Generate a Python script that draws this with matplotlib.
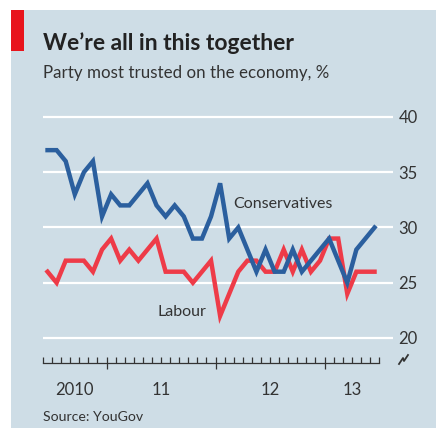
import matplotlib
matplotlib.use('Agg')
import matplotlib.pyplot as plt
from matplotlib.patches import Rectangle
from matplotlib.lines import Line2D
import matplotlib.transforms as mtransforms

plt.rcParams['font.family'] = ['Lato', 'DejaVu Sans']

# monthly polls, June 2010 to June 2013 (x = months since Jan 2010, mid-month)
months = [m + 0.5 for m in range(5, 42)]
conservatives = [37, 37, 36, 33, 35, 36, 31, 33, 32, 32, 33, 34, 32, 31, 32, 31,
                 29, 29, 31, 34, 29, 30, 28, 26, 28, 26, 26, 28, 26, 27, 28, 29,
                 27, 25, 28, 29, 30]
labour = [26, 25, 27, 27, 27, 26, 28, 29, 27, 28, 27, 28, 29, 26, 26, 26,
          25, 26, 27, 22, 24, 26, 27, 27, 26, 26, 28, 26, 28, 26, 27, 29,
          29, 24, 26, 26, 26]
year_labels = ['2010', '11', '12', '13']
year_centres = [8.5, 18, 30, 39]
y_ticks = [20, 25, 30, 35, 40]

W, H = 436, 429
bg = '#cedde6'
blue = '#2b5f9e'
red = '#ee3b48'
txt = '#333333'

fig = plt.figure(figsize=(W / 100, H / 100), dpi=100)
fig.patch.set_facecolor('white')


def fx(px):
    return px / W


def fy(py):
    return 1 - py / H


# panel background and red tag
fig.patches.append(Rectangle((fx(11), fy(428)), fx(436) - fx(11), fy(10) - fy(428),
                             transform=fig.transFigure, facecolor=bg, edgecolor='none', zorder=-2))
fig.patches.append(Rectangle((fx(11), fy(51)), fx(24) - fx(11), fy(10) - fy(51),
                             transform=fig.transFigure, facecolor='#e8141c', edgecolor='none', zorder=-1))

ax = fig.add_axes([fx(43), fy(363), fx(393) - fx(43), fy(106) - fy(363)])
ax.set_zorder(2)
ax.set_facecolor('none')
ax.set_xlim(5, 5 + 350 / 9.083)
ax.set_ylim(20 - 25 / 11.05, 20 + 232 / 11.05)

for v in y_ticks:
    ax.axhline(v, color='white', lw=1.6, zorder=1)

ax.plot(months, labour, color=red, lw=3.2, solid_joinstyle='miter', zorder=3)
ax.plot(months, conservatives, color=blue, lw=3.2, solid_joinstyle='miter', zorder=4)

ax.text(25.9, 32.1, 'Conservatives', fontsize=11.5, color=txt, va='center', ha='left')
ax.text(17.6, 22.35, 'Labour', fontsize=11.5, color=txt, va='center', ha='left')

for s in ['top', 'left', 'right']:
    ax.spines[s].set_visible(False)
ax.spines['bottom'].set_bounds(5, 42)
ax.spines['bottom'].set_color(txt)
ax.spines['bottom'].set_linewidth(0.9)

ax.set_xticks([12, 24, 36])
ax.set_xticklabels([])
ax.set_xticks(range(5, 43), minor=True)
ax.tick_params(axis='x', which='major', direction='inout', length=9, width=0.9, color=txt)
ax.tick_params(axis='x', which='minor', direction='in', length=4, width=0.9, color=txt)

ax.yaxis.tick_right()
ax.set_yticks(y_ticks)
ax.set_yticklabels([str(v) for v in y_ticks])
ax.tick_params(axis='y', length=0, pad=4, labelsize=12, labelcolor=txt)

trans = mtransforms.blended_transform_factory(ax.transData, fig.transFigure)
for xc, lab in zip(year_centres, year_labels):
    ax.text(xc, fy(395), lab, transform=trans, ha='center', va='baseline',
            fontsize=12, color=txt)

# axis break mark
fig.lines.append(Line2D([fx(399), fx(403), fx(404), fx(408)],
                        [fy(364), fy(358), fy(361), fy(355)],
                        transform=fig.transFigure, color=txt, lw=1.3))

fig.text(fx(43), fy(50), 'We\u2019re all in this together', fontsize=16.5,
         fontweight='bold', color='#222222', va='baseline', ha='left')
fig.text(fx(43), fy(78), 'Party most trusted on the economy, %', fontsize=12.2,
         color=txt, va='baseline', ha='left')
fig.text(fx(43), fy(421), 'Source: YouGov', fontsize=10.2, color=txt,
         va='baseline', ha='left')

fig.savefig('out.png', dpi=100, facecolor=fig.get_facecolor())
